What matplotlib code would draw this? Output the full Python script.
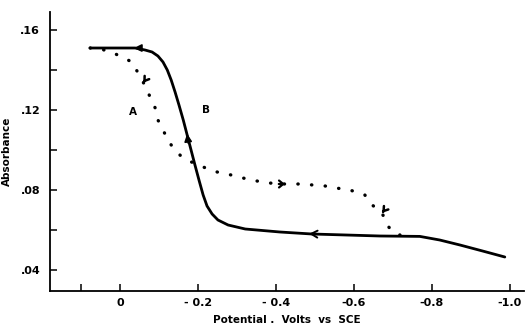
import matplotlib
matplotlib.use("Agg")
import matplotlib.pyplot as plt

# Curve B (solid)
b_x = [0.077, 0.026, -0.0385, -0.064, -0.082, -0.097, -0.110, -0.121, -0.131, -0.141,
       -0.151, -0.162, -0.172, -0.182, -0.192, -0.203, -0.213, -0.223, -0.236, -0.251,
       -0.277, -0.321, -0.410, -0.492, -0.580, -0.667, -0.769, -0.820, -0.872, -0.930, -0.987]
b_y = [0.151, 0.151, 0.151, 0.150, 0.149, 0.147, 0.144, 0.140, 0.135, 0.129,
       0.1225, 0.115, 0.1075, 0.100, 0.0925, 0.0845, 0.0775, 0.072, 0.068, 0.065,
       0.0625, 0.0605, 0.059, 0.058, 0.0575, 0.057, 0.0568, 0.055, 0.0525, 0.0495, 0.0465]

# Curve A (dotted)
a_x = [0.077, 0.051, 0.021, -0.003, -0.031, -0.046, -0.059, -0.077, -0.090, -0.097,
       -0.110, -0.123, -0.136, -0.156, -0.177, -0.213, -0.249, -0.285, -0.315, -0.351,
       -0.382, -0.423, -0.462, -0.495, -0.526, -0.551, -0.577, -0.608, -0.628, -0.641,
       -0.659, -0.672, -0.687, -0.700, -0.718]
a_y = [0.151, 0.1505, 0.149, 0.1465, 0.144, 0.1385, 0.134, 0.1265, 0.121, 0.115,
       0.110, 0.105, 0.101, 0.097, 0.0945, 0.0915, 0.089, 0.0875, 0.086, 0.0845,
       0.0835, 0.083, 0.083, 0.0825, 0.082, 0.081, 0.0805, 0.079, 0.0775, 0.0735,
       0.0705, 0.0685, 0.062, 0.059, 0.0575]

x_ticks = [0.0, -0.2, -0.4, -0.6, -0.8, -1.0]
x_labels = ["0", "- 0.2", "- 0.4", "-0.6", "-0.8", "-1.0"]
y_ticks = [0.04, 0.08, 0.12, 0.16]
y_labels = [".04", ".08", ".12", ".16"]
x_minor = [0.1]
y_minor = [0.06, 0.10, 0.14]

fig = plt.figure(figsize=(5.26, 3.29), dpi=100)
ax = fig.add_axes([0.095, 0.1155, 0.901, 0.848])

ax.plot(b_x, b_y, color="black", lw=2.0, solid_capstyle="round", solid_joinstyle="round")
ax.plot(a_x, a_y, color="black", lw=2.4, linestyle=(0, (0.1, 4.0)),
        dash_capstyle="round")

filled = dict(arrowstyle="-|>,head_length=0.45,head_width=0.22", color="black", lw=1.2)
# solid arrows
ax.annotate("", xy=(-0.028, 0.151), xytext=(-0.05, 0.151), arrowprops=filled)
ax.annotate("", xy=(-0.171, 0.1095), xytext=(-0.176, 0.102), arrowprops=filled)
ax.annotate("", xy=(-0.478, 0.0582), xytext=(-0.51, 0.0579),
            arrowprops=dict(arrowstyle="->,head_length=0.45,head_width=0.25", color="black", lw=1.4))
# dotted arrows
ax.annotate("", xy=(-0.055, 0.1325), xytext=(-0.066, 0.1355),
            arrowprops=dict(arrowstyle="->,head_length=0.3,head_width=0.2", color="black", lw=1.8))
ax.annotate("", xy=(-0.43, 0.083), xytext=(-0.40, 0.083),
            arrowprops=dict(arrowstyle="->,head_length=0.3,head_width=0.25", color="black", lw=1.6))
ax.annotate("", xy=(-0.668, 0.0675), xytext=(-0.680, 0.0705),
            arrowprops=dict(arrowstyle="->,head_length=0.3,head_width=0.2", color="black", lw=1.8))

ax.text(-0.033, 0.119, "A", fontsize=7.5, fontweight="bold", ha="center", va="center")
ax.text(-0.221, 0.120, "B", fontsize=7.5, fontweight="bold", ha="center", va="center")

ax.set_xlim(0.18, -1.036)
ax.set_ylim(0.0295, 0.169)

for s in ["top", "right"]:
    ax.spines[s].set_visible(False)
for s in ["left", "bottom"]:
    ax.spines[s].set_linewidth(1.3)

ax.set_xticks(x_ticks)
ax.set_xticklabels(x_labels, fontsize=8, fontweight="bold")
ax.set_xticks(x_minor, minor=True)
ax.set_yticks(y_ticks)
ax.set_yticklabels(y_labels, fontsize=8, fontweight="bold")
ax.set_yticks(y_minor, minor=True)
ax.tick_params(axis="both", which="both", direction="in", length=5, width=1.1)
ax.tick_params(axis="x", pad=5)
ax.tick_params(axis="y", pad=7)

ax.set_xlabel("Potential .  Volts  vs  SCE", fontsize=7.5, fontweight="bold", labelpad=5)
ax.set_ylabel("Absorbance", fontsize=7.5, fontweight="bold", labelpad=6)

fig.savefig("out.png", dpi=100)
